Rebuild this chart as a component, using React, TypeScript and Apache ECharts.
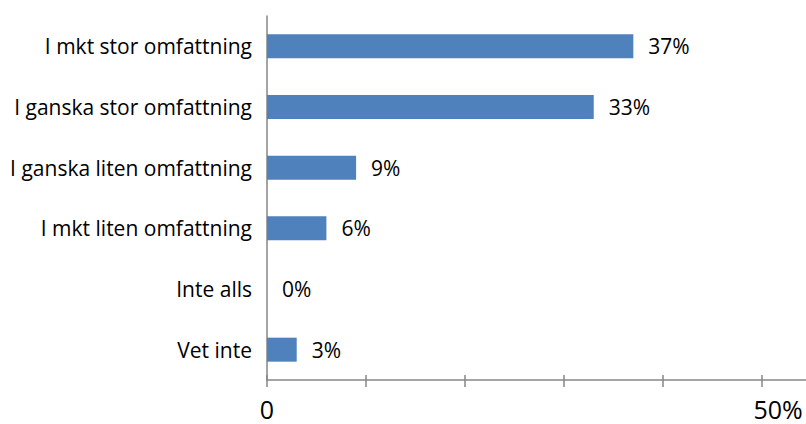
import React, { useEffect, useRef } from "react";
import * as echarts from "echarts";

const categories = [
  "I mkt stor omfattning",
  "I ganska stor omfattning",
  "I ganska liten omfattning",
  "I mkt liten omfattning",
  "Inte alls",
  "Vet inte",
];
const values = [0.37, 0.33, 0.09, 0.06, 0, 0.03];
const axisMin = 0;
const axisMax = 0.5444;
const tickValues = [0, 0.1, 0.2, 0.3, 0.4, 0.5];
const labelValues = [0, 0.5];

const FONT = "'Open Sans', 'Noto Sans', sans-serif";

export default function App() {
  const ref = useRef<HTMLDivElement>(null);
  useEffect(() => {
    document.body.style.margin = "0";
    const chart = echarts.init(ref.current!, undefined, { renderer: "svg" });
    const fmt = (v: number) => {
      if (Math.abs(v) < 1e-9) return "0";
      if (Math.abs(v - 0.5) < 1e-9) return "{r|50%}";
      return "";
    };
    const axisColor = "#868686";
    chart.setOption({
      animation: false,
      backgroundColor: "#ffffff",
      grid: { left: 267, top: 16, right: 0, bottom: 44, containLabel: false },
      xAxis: [
        {
          type: "value",
          min: axisMin,
          max: axisMax,
          position: "bottom",
          axisLine: { show: true, lineStyle: { color: axisColor, width: 1.5 } },
          axisTick: {
            show: true,
            inside: false,
            length: 7,
            customValues: tickValues,
            lineStyle: { color: axisColor, width: 1.5 },
          },
          splitLine: { show: false },
          axisLabel: {
            customValues: labelValues,
            formatter: fmt,
            fontFamily: FONT,
            fontSize: 25,
            color: "#000",
            margin: 16,
            rich: { r: { fontFamily: FONT, fontSize: 25, color: "#000", padding: [0, 0, 0, 32] } },
          },
        },
        {
          type: "value",
          min: axisMin,
          max: axisMax,
          position: "bottom",
          axisLine: { show: false },
          axisTick: {
            show: true,
            inside: true,
            length: 5,
            customValues: tickValues,
            lineStyle: { color: axisColor, width: 1.5 },
          },
          splitLine: { show: false },
          axisLabel: { show: false },
        },
      ],
      yAxis: {
        type: "category",
        data: categories,
        inverse: true,
        axisLine: { show: true, lineStyle: { color: axisColor, width: 1.5 } },
        axisTick: { show: false },
        axisLabel: { fontFamily: FONT, fontSize: 21, color: "#000", margin: 15 },
      },
      series: [
        {
          type: "bar",
          data: values,
          barWidth: 24,
          itemStyle: { color: "#4F81BD" },
          label: {
            show: true,
            position: "right",
            distance: 15,
            fontFamily: FONT,
            fontSize: 21,
            color: "#000",
            formatter: (p: any) => Math.round(p.value * 100) + "%",
          },
        },
      ],
    });
    return () => chart.dispose();
  }, []);
  return (
    <div
      ref={ref}
      style={{ position: "fixed", left: 0, top: 0, width: 806, height: 424, overflow: "hidden" }}
    />
  );
}
